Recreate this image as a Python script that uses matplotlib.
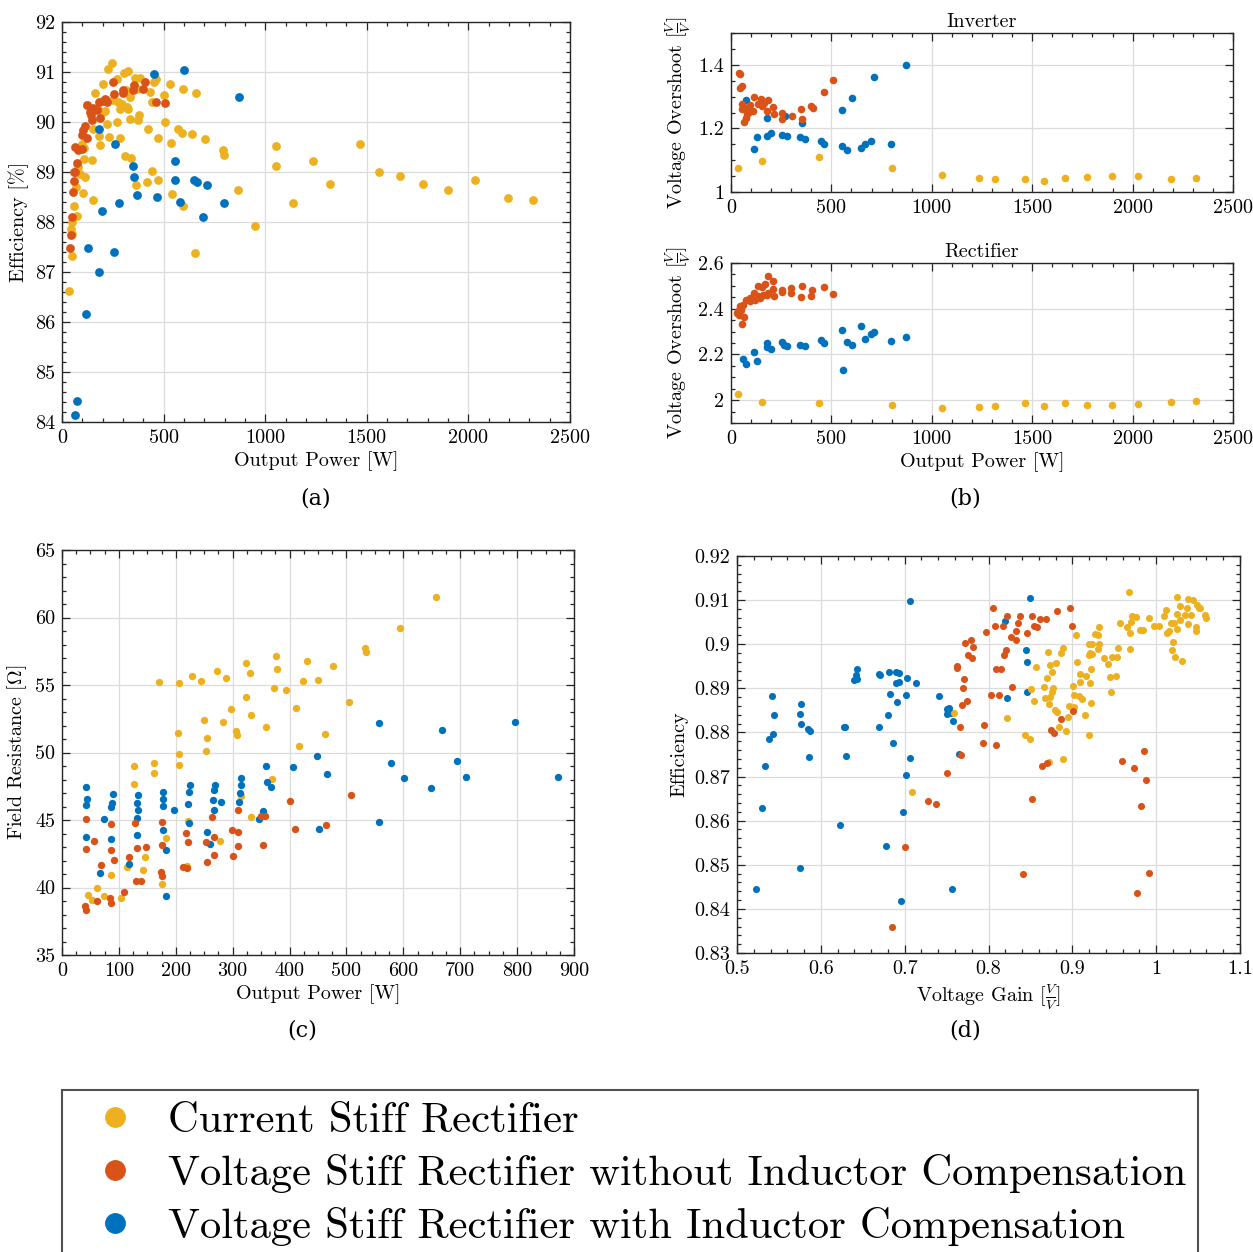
import matplotlib
matplotlib.use("Agg")
import matplotlib.pyplot as plt
from matplotlib.ticker import MultipleLocator, FuncFormatter
from matplotlib.lines import Line2D

plt.rcParams["font.family"] = ["cmr10", "DejaVu Serif"]
plt.rcParams["mathtext.fontset"] = "cm"
plt.rcParams["axes.formatter.use_mathtext"] = True

C_CS = "#EDB120"   # current stiff rectifier
C_VS = "#D95319"   # voltage stiff, no inductor compensation
C_VC = "#0072BD"   # voltage stiff, with inductor compensation

# ---------------- (a) efficiency vs output power ----------------
a_cs_p = [244, 228, 305, 323, 359, 384, 272, 203, 463, 453, 531, 594, 658, 162, 315, 367, 433, 504, 441, 220,
          253, 277, 294, 318, 285, 326, 335, 125, 212, 379, 376, 335, 220, 269, 507, 425, 573, 589, 638, 704,
          233, 285, 474, 536, 187, 110, 97, 791, 799, 1053, 1053, 1237, 310, 338, 149, 108, 441, 363, 417, 472,
          540, 594, 868, 1138, 950, 151, 102, 69, 113, 89, 61, 72, 48, 44, 48, 184, 151, 80, 176, 200,
          1467, 1562, 1663, 1775, 1898, 2031, 2195, 2320, 1319, 49, 656, 33]
a_cs_eff = [91.19, 91.07, 90.99, 91.02, 90.89, 90.89, 90.87, 90.77, 90.87, 90.81, 90.77, 90.67, 90.59, 90.59, 90.64,
            90.67, 90.61, 90.54, 90.41, 90.44, 90.45, 90.41, 90.37, 90.31, 90.27, 90.27, 90.51, 90.34, 90.23, 90.15,
            90.04, 90.06, 89.97, 90.01, 90.01, 89.86, 89.87, 89.79, 89.77, 89.67, 89.71, 89.69, 89.69, 89.59, 89.55,
            89.49, 89.57, 89.44, 89.35, 89.53, 89.12, 89.23, 89.33, 89.29, 89.25, 89.27, 89.03, 88.74, 88.81, 88.85,
            88.57, 88.33, 88.65, 88.39, 87.93, 88.44, 88.59, 88.71, 88.91, 88.96, 88.32, 88.12, 88.01, 87.87, 87.77,
            89.72, 89.87, 89.11, 90.27, 90.21,
            89.56, 89.00, 88.93, 88.77, 88.64, 88.84, 88.49, 88.45, 88.77, 87.33, 87.38, 86.62]
a_vs_p = [253, 354, 408, 256, 299, 302, 348, 400, 463, 509, 212, 184, 154, 171, 141, 187, 146, 121, 113, 105,
          97, 125, 64, 80, 97, 75, 59, 64, 59, 56, 48, 43, 203, 220, 138, 38]
a_vs_eff = [90.81, 90.74, 90.81, 90.57, 90.64, 90.59, 90.64, 90.66, 90.41, 90.39, 90.46, 90.41, 90.29, 90.24, 90.14,
            90.09, 90.04, 90.34, 89.92, 89.84, 89.74, 89.69, 89.51, 89.44, 89.47, 89.19, 89.01, 89.00, 88.83, 88.61,
            88.11, 87.74, 90.43, 90.41, 90.21, 87.49]
a_vc_p = [453, 602, 873, 180, 261, 558, 348, 354, 558, 650, 666, 712, 367, 466, 581, 796, 279, 197, 696, 130,
          254, 182, 116, 72, 66]
a_vc_eff = [90.97, 91.05, 90.51, 89.86, 89.57, 89.23, 89.12, 88.91, 88.85, 88.84, 88.81, 88.75, 88.55, 88.51, 88.41,
            88.39, 88.39, 88.23, 88.11, 87.49, 87.41, 87.01, 86.17, 84.43, 84.15]

# ---------------- (b) voltage overshoot vs output power ----------------
inv_vs_p = [40, 45, 45, 56, 56, 70, 53, 95, 116, 136, 149, 186, 178, 211, 216, 252, 256, 302, 349, 352,
            398, 407, 461, 506, 65, 73, 90, 111, 153, 166, 78]
inv_vs_os = [1.375, 1.370, 1.328, 1.333, 1.276, 1.264, 1.260, 1.273, 1.299, 1.276, 1.292, 1.290, 1.255, 1.266, 1.245,
             1.250, 1.231, 1.238, 1.260, 1.231, 1.269, 1.264, 1.313, 1.352, 1.219, 1.234, 1.252, 1.255, 1.271, 1.281,
             1.245]
inv_vc_p = [73, 116, 128, 181, 181, 198, 252, 277, 344, 369, 352, 448, 465, 554, 579, 554, 601, 646, 667, 696,
            710, 797, 872, 269]
inv_vc_os = [1.289, 1.135, 1.174, 1.234, 1.177, 1.184, 1.179, 1.177, 1.172, 1.167, 1.216, 1.159, 1.151, 1.144, 1.133,
             1.258, 1.295, 1.139, 1.151, 1.161, 1.361, 1.151, 1.399, 1.238]
inv_cs_p = [33, 153, 440, 800, 1049, 1235, 1316, 1464, 1559, 1662, 1773, 1897, 2029, 2191, 2317]
inv_cs_os = [1.077, 1.098, 1.111, 1.076, 1.054, 1.044, 1.040, 1.041, 1.036, 1.044, 1.047, 1.049, 1.049, 1.042, 1.043]

rec_vs_p = [183, 208, 133, 169, 153, 211, 186, 178, 216, 252, 256, 299, 299, 349, 352, 405, 398, 461, 506, 56,
            66, 37, 40, 45, 61, 73, 95, 95, 111, 120, 136, 144, 161, 116, 50, 32]
rec_vs_os = [2.543, 2.523, 2.501, 2.509, 2.493, 2.486, 2.468, 2.458, 2.457, 2.483, 2.471, 2.490, 2.468, 2.451, 2.501,
             2.480, 2.454, 2.493, 2.464, 2.333, 2.364, 2.388, 2.374, 2.410, 2.417, 2.439, 2.432, 2.446, 2.446, 2.439,
             2.457, 2.446, 2.461, 2.468, 2.396, 2.381]
rec_vc_p = [61, 73, 116, 129, 181, 181, 198, 252, 266, 279, 344, 369, 448, 465, 554, 579, 601, 646, 667, 696,
            712, 797, 872, 556]
rec_vc_os = [2.178, 2.157, 2.212, 2.170, 2.251, 2.233, 2.225, 2.255, 2.243, 2.236, 2.243, 2.239, 2.265, 2.251, 2.306,
             2.254, 2.241, 2.325, 2.268, 2.291, 2.299, 2.257, 2.278, 2.130]
rec_cs_p = [33, 153, 440, 800, 1049, 1235, 1316, 1464, 1559, 1662, 1773, 1897, 2029, 2191, 2317]
rec_cs_os = [2.025, 1.993, 1.988, 1.977, 1.967, 1.972, 1.975, 1.986, 1.975, 1.987, 1.980, 1.978, 1.983, 1.993, 1.997]

# ---------------- (c) field resistance vs output power ----------------
c_cs_p = [658, 594, 532, 534, 376, 431, 476, 378, 323, 331, 273, 229, 288, 244, 170, 205, 423, 450, 373, 394,
          504, 324, 297, 412, 333, 250, 283, 306, 307, 359, 204, 255, 463, 417, 253, 206, 205, 162, 127, 162,
          127, 370, 314, 332, 221, 182, 277, 146, 114, 142, 87, 220, 175, 62, 46, 52, 74, 103]
c_cs_r = [61.54, 59.25, 57.77, 57.45, 57.15, 56.78, 56.41, 56.21, 56.61, 55.91, 56.04, 55.67, 55.54, 55.30, 55.20,
          55.12, 55.30, 55.35, 54.75, 54.61, 53.74, 54.09, 53.25, 53.30, 52.78, 52.41, 52.28, 51.62, 51.32, 51.89,
          51.45, 51.05, 51.40, 50.46, 50.14, 49.91, 49.10, 49.20, 48.98, 48.51, 47.69, 48.04, 46.75, 45.20, 44.93,
          43.67, 43.47, 42.29, 41.49, 41.27, 40.95, 41.59, 40.29, 39.94, 39.42, 39.05, 39.37, 39.22]
c_vc_p = [43, 44, 43, 43, 73, 89, 88, 87, 87, 67, 118, 133, 132, 134, 131, 132, 178, 177, 177, 177,
          183, 182, 197, 225, 223, 221, 224, 269, 268, 266, 267, 279, 255, 260, 314, 315, 313, 312, 353, 347,
          358, 360, 367, 406, 448, 466, 452, 558, 579, 602, 557, 668, 695, 649, 711, 796, 872]
c_vc_r = [47.45, 46.58, 46.09, 43.74, 45.05, 46.90, 46.24, 45.96, 43.59, 41.10, 41.72, 46.85, 46.28, 45.77, 45.17,
          43.87, 47.10, 46.53, 46.04, 44.26, 42.78, 39.37, 45.77, 47.59, 47.07, 46.21, 44.75, 47.62, 47.25, 46.48,
          45.72, 46.33, 44.14, 43.22, 48.11, 47.57, 46.98, 46.33, 45.67, 45.10, 48.98, 47.79, 47.45, 48.93, 49.77,
          48.43, 44.31, 52.21, 49.22, 48.09, 44.85, 51.69, 49.35, 47.37, 48.16, 52.28, 48.21]
c_vs_p = [43, 43, 57, 86, 86, 69, 92, 84, 86, 61, 41, 42, 129, 132, 148, 118, 130, 139, 109, 175,
          176, 174, 176, 218, 222, 213, 220, 263, 268, 253, 255, 267, 310, 299, 310, 309, 301, 349, 356, 353,
          401, 409, 464, 508]
c_vs_r = [45.10, 42.88, 43.47, 44.70, 42.75, 41.67, 42.06, 39.20, 38.85, 38.98, 38.65, 38.36, 44.75, 42.95, 43.03,
          42.29, 40.46, 40.46, 39.64, 44.88, 43.17, 41.12, 40.88, 44.06, 43.35, 41.54, 41.47, 45.22, 43.72, 43.40,
          41.89, 42.38, 45.77, 44.26, 44.14, 43.07, 42.31, 45.32, 45.32, 43.15, 46.41, 44.33, 44.63, 46.85]

# ---------------- (d) efficiency vs voltage gain ----------------
d_vc_g = [0.7066, 0.8496, 0.8198, 0.8449, 0.8461, 0.8464, 0.8218, 0.6434, 0.6414, 0.6395, 0.6426, 0.6696, 0.6704,
          0.6816, 0.6895, 0.6931, 0.6899, 0.6931, 0.7022, 0.7141, 0.6820, 0.6911, 0.7010, 0.7404, 0.6796, 0.6693,
          0.7507, 0.7531, 0.7507, 0.7551, 0.7582, 0.5421, 0.5437, 0.5429, 0.5377, 0.5767, 0.5755, 0.5767, 0.5850,
          0.5866, 0.5858, 0.6279, 0.6291, 0.6295, 0.6863, 0.7062, 0.7014, 0.5338, 0.5294, 0.6983, 0.6232, 0.6780,
          0.5751, 0.5230, 0.6955, 0.7563, 0.7646]
d_vc_e = [0.9098, 0.9105, 0.9052, 0.8987, 0.8959, 0.8892, 0.8877, 0.8943, 0.8931, 0.8920, 0.8921, 0.8932, 0.8931,
          0.8938, 0.8938, 0.8935, 0.8913, 0.8915, 0.8924, 0.8913, 0.8887, 0.8870, 0.8886, 0.8882, 0.8840, 0.8812,
          0.8853, 0.8856, 0.8842, 0.8843, 0.8825, 0.8882, 0.8840, 0.8797, 0.8786, 0.8864, 0.8842, 0.8819, 0.8807,
          0.8804, 0.8745, 0.8812, 0.8812, 0.8746, 0.8777, 0.8742, 0.8703, 0.8723, 0.8629, 0.8619, 0.8590, 0.8543,
          0.8493, 0.8446, 0.8419, 0.8446, 0.8751]
d_vs_g = [0.8059, 0.8814, 0.8973, 0.8226, 0.8373, 0.8520, 0.8615, 0.8683, 0.8079, 0.8167, 0.8349, 0.8329, 0.8457,
          0.8540, 0.8580, 0.8993, 0.7968, 0.8270, 0.8333, 0.7718, 0.7789, 0.7821, 0.8210, 0.8190, 0.7757, 0.7801,
          0.7622, 0.7630, 0.8091, 0.8155, 0.7702, 0.7690, 0.8282, 0.8027, 0.8123, 0.7745, 0.7686, 0.8862, 0.9005,
          0.7948, 0.7658, 0.8743, 0.8782, 0.7932, 0.8087, 0.7670, 0.8639, 0.8699, 0.9859, 0.9593, 0.9732, 0.9879,
          0.7507, 0.7273, 0.7368, 0.8520, 0.9823, 0.7006, 0.8413, 0.9919, 0.9776, 0.6847]
d_vs_e = [0.9081, 0.9075, 0.9081, 0.9064, 0.9064, 0.9064, 0.9057, 0.9058, 0.9041, 0.9041, 0.9047, 0.9030, 0.9026,
          0.9041, 0.9038, 0.9041, 0.9028, 0.9017, 0.9009, 0.9002, 0.9010, 0.8994, 0.8987, 0.8976, 0.8976, 0.8969,
          0.8947, 0.8951, 0.8944, 0.8944, 0.8921, 0.8900, 0.8902, 0.8885, 0.8885, 0.8871, 0.8862, 0.8831, 0.8849,
          0.8818, 0.8813, 0.8806, 0.8799, 0.8775, 0.8772, 0.8750, 0.8724, 0.8731, 0.8757, 0.8736, 0.8720, 0.8692,
          0.8709, 0.8645, 0.8637, 0.8650, 0.8634, 0.8540, 0.8480, 0.8481, 0.8437, 0.8359]
d_cs_g = [0.9680, 1.0252, 1.0380, 1.0439, 1.0288, 1.0368, 1.0487, 1.0511, 1.0113, 1.0527,
          1.0093, 1.0244, 1.0348, 1.0411, 1.0582, 1.0590, 0.9716, 0.9764, 0.9919, 1.0280,
          1.0173, 1.0213, 1.0157, 1.0244, 1.0380, 1.0475, 1.0479, 0.9569, 0.9652, 0.9704,
          0.9684, 0.9811, 0.9847, 0.9974, 1.0030, 1.0133, 0.9319, 0.9275, 0.9307, 0.9045,
          1.0201, 1.0193, 1.0229, 1.0312, 0.9684, 0.9545, 0.9478, 0.9533, 0.9382, 0.9430,
          0.9450, 0.9525, 0.9458, 0.9204, 0.9231, 0.9323, 0.9303, 0.9215, 0.9204, 0.9239,
          0.9057, 0.9227, 0.9092, 0.9168, 0.9088, 0.9208, 0.9005, 0.9017, 0.9080, 0.9116,
          0.9219, 0.9152, 0.8890, 0.8862, 0.8711, 0.8735, 0.8810, 0.8572, 0.8758, 0.8703,
          0.8663, 0.8770, 0.8755, 0.8739, 0.8675, 0.8504, 0.8544, 0.8723, 0.8961, 0.9025,
          0.8794, 0.8822, 0.8945, 0.8842, 0.8921, 0.9204, 0.8433, 0.8496, 0.8218, 0.7590,
          0.8727, 0.8890, 0.7082]
d_cs_e = [0.9119, 0.9107, 0.9102, 0.9100, 0.9087, 0.9081, 0.9089, 0.9082, 0.9077, 0.9082,
          0.9064, 0.9068, 0.9066, 0.9067, 0.9066, 0.9059, 0.9064, 0.9061, 0.9059, 0.9054,
          0.9049, 0.9049, 0.9029, 0.9034, 0.9045, 0.9039, 0.9029, 0.9047, 0.9040, 0.9051,
          0.9026, 0.9033, 0.9032, 0.9042, 0.9042, 0.9026, 0.9040, 0.9024, 0.9021, 0.9021,
          0.9005, 0.8987, 0.8970, 0.8961, 0.8990, 0.8991, 0.8972, 0.8970, 0.8968, 0.8955,
          0.8925, 0.8929, 0.8891, 0.9000, 0.9000, 0.9000, 0.8989, 0.8980, 0.8975, 0.8978,
          0.8959, 0.8944, 0.8933, 0.8927, 0.8915, 0.8913, 0.8905, 0.8886, 0.8882, 0.8875,
          0.8867, 0.8840, 0.8991, 0.8980, 0.8982, 0.8954, 0.8957, 0.8949, 0.8936, 0.8923,
          0.8903, 0.8901, 0.8892, 0.8881, 0.8878, 0.8898, 0.8871, 0.8865, 0.8861, 0.8858,
          0.8850, 0.8846, 0.8834, 0.8813, 0.8804, 0.8794, 0.8794, 0.8785, 0.8833, 0.8845,
          0.8733, 0.8740, 0.8664]

legend_labels = ["Current Stiff Rectifier",
                 "Voltage Stiff Rectifier without Inductor Compensation",
                 "Voltage Stiff Rectifier with Inductor Compensation"]

W, H = 1253, 1252
fig = plt.figure(figsize=(W / 100, H / 100), dpi=100)


def px_axes(left, top, right, bottom):
    return fig.add_axes([left / W, 1 - bottom / H, (right - left) / W, (bottom - top) / H])


TICK_FS = 14.5
LABEL_FS = 14.5
fmt = FuncFormatter(lambda v, _: f"{v:g}")


def style(ax, xmaj, xmin, ymaj, ymin):
    ax.xaxis.set_major_locator(MultipleLocator(xmaj))
    ax.xaxis.set_minor_locator(MultipleLocator(xmin))
    ax.yaxis.set_major_locator(MultipleLocator(ymaj))
    ax.yaxis.set_minor_locator(MultipleLocator(ymin))
    ax.xaxis.set_major_formatter(fmt)
    ax.yaxis.set_major_formatter(fmt)
    ax.tick_params(which="both", direction="in", top=True, right=True, colors="#262626",
                   labelcolor="black", labelsize=TICK_FS, width=0.9)
    ax.tick_params(which="major", length=5.5, pad=5)
    ax.tick_params(which="minor", length=3)
    ax.grid(True, which="major", color="#dcdcdc", linewidth=0.9)
    ax.set_axisbelow(True)
    for s in ax.spines.values():
        s.set_linewidth(1.0)
        s.set_color("#262626")


VV = r"$[\frac{V}{V}]$"

# (a)
ax_a = px_axes(62, 22, 570, 422)
ax_a.scatter(a_cs_p, a_cs_eff, s=40, color=C_CS, linewidths=0, zorder=3)
ax_a.scatter(a_vs_p, a_vs_eff, s=40, color=C_VS, linewidths=0, zorder=3)
ax_a.scatter(a_vc_p, a_vc_eff, s=40, color=C_VC, linewidths=0, zorder=3)
ax_a.set_xlim(0, 2500)
ax_a.set_ylim(84, 92)
style(ax_a, 500, 100, 1, 0.2)
ax_a.set_xlabel("Output Power [W]", fontsize=LABEL_FS, labelpad=3)
ax_a.set_ylabel("Efficiency [%]", fontsize=LABEL_FS, labelpad=4)

# (b) inverter
ax_bi = px_axes(731, 33, 1233, 192)
ax_bi.scatter(inv_cs_p, inv_cs_os, s=30, color=C_CS, linewidths=0, zorder=3)
ax_bi.scatter(inv_vc_p, inv_vc_os, s=30, color=C_VC, linewidths=0, zorder=3)
ax_bi.scatter(inv_vs_p, inv_vs_os, s=30, color=C_VS, linewidths=0, zorder=3)
ax_bi.set_xlim(0, 2500)
ax_bi.set_ylim(1.0, 1.5)
style(ax_bi, 500, 100, 0.2, 0.05)
ax_bi.set_yticks([1.0, 1.2, 1.4])
ax_bi.set_title("Inverter", fontsize=LABEL_FS, pad=4)
ax_bi.set_ylabel("Voltage Overshoot " + VV, fontsize=LABEL_FS, labelpad=4)

# (b) rectifier
ax_br = px_axes(731, 263, 1233, 423)
ax_br.scatter(rec_cs_p, rec_cs_os, s=30, color=C_CS, linewidths=0, zorder=3)
ax_br.scatter(rec_vc_p, rec_vc_os, s=30, color=C_VC, linewidths=0, zorder=3)
ax_br.scatter(rec_vs_p, rec_vs_os, s=30, color=C_VS, linewidths=0, zorder=3)
ax_br.set_xlim(0, 2500)
ax_br.set_ylim(1.9, 2.6)
style(ax_br, 500, 100, 0.2, 0.05)
ax_br.set_yticks([2.0, 2.2, 2.4, 2.6])
ax_br.set_title("Rectifier", fontsize=LABEL_FS, pad=4)
ax_br.set_xlabel("Output Power [W]", fontsize=LABEL_FS, labelpad=3)
ax_br.set_ylabel("Voltage Overshoot " + VV, fontsize=LABEL_FS, labelpad=4)

# (c)
ax_c = px_axes(62, 550, 574, 955)
ax_c.scatter(c_cs_p, c_cs_r, s=28, color=C_CS, linewidths=0, zorder=3)
ax_c.scatter(c_vc_p, c_vc_r, s=28, color=C_VC, linewidths=0, zorder=3)
ax_c.scatter(c_vs_p, c_vs_r, s=28, color=C_VS, linewidths=0, zorder=3)
ax_c.set_xlim(0, 900)
ax_c.set_ylim(35, 65)
style(ax_c, 100, 25, 5, 1)
ax_c.set_xlabel("Output Power [W]", fontsize=LABEL_FS, labelpad=3)
ax_c.set_ylabel(r"Field Resistance [$\Omega$]", fontsize=LABEL_FS, labelpad=4)

# (d)
ax_d = px_axes(737, 556, 1240, 953)
ax_d.scatter(d_vc_g, d_vc_e, s=26, color=C_VC, linewidths=0, zorder=3)
ax_d.scatter(d_cs_g, d_cs_e, s=26, color=C_CS, linewidths=0, zorder=3)
ax_d.scatter(d_vs_g, d_vs_e, s=26, color=C_VS, linewidths=0, zorder=3)
ax_d.set_xlim(0.5, 1.1)
ax_d.set_ylim(0.83, 0.92)
style(ax_d, 0.1, 0.02, 0.01, 0.002)
ax_d.set_xlabel("Voltage Gain " + VV, fontsize=LABEL_FS, labelpad=3)
ax_d.set_ylabel("Efficiency", fontsize=LABEL_FS, labelpad=4)

# sub-figure captions
for x, y, t in [(316, 498, "(a)"), (965, 498, "(b)"), (302, 1030, "(c)"), (965, 1030, "(d)")]:
    fig.text(x / W, 1 - y / H, t, ha="center", va="center", fontsize=16, family="DejaVu Serif")

# shared legend
handles = [Line2D([], [], linestyle="none", marker="o", markersize=14, color=c)
           for c in (C_CS, C_VS, C_VC)]
leg = fig.legend(handles, legend_labels, loc="upper left",
                 bbox_to_anchor=(62 / W, 1 - 1090 / H), fontsize=30.7, frameon=True,
                 fancybox=False, borderpad=0.28, labelspacing=0.33, handlelength=1.92,
                 handletextpad=0.28, borderaxespad=0)
leg.get_frame().set_edgecolor("#262626")
leg.get_frame().set_linewidth(1.5)

fig.savefig("out.png", dpi=100)
